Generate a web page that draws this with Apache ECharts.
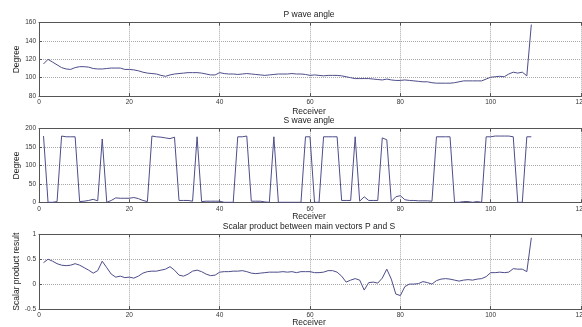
<!DOCTYPE html>
<html>
<head>
<meta charset="utf-8">
<script src="https://cdn.jsdelivr.net/npm/echarts@6/dist/echarts.min.js"></script>
<style>
html,body{margin:0;padding:0;background:#fff;}
#chart{width:582px;height:327px;}
</style>
</head>
<body>
<div id="chart"></div>
<script>
// Receiver index 1..109
var receivers = [];
for (var i = 1; i <= 109; i++) receivers.push(i);

var pAngle = [115,120,117,114,111,109.5,109,111,112,112,111.5,110,109.5,109.5,110,110.5,110.5,110.5,109,109,
108.5,107.5,106,105,104.5,104,102.5,101.5,103,104,104.5,105,105.5,105.5,105.5,105,104,103,103,105.5,
104.5,104,104,103.5,104,104.5,104,103.5,103,102.5,103,103.5,104,104,104,104.5,104,104,103.5,102.5,
103,102.5,102,102.5,102.5,102.5,102,101,100,99,99,99,99,98.5,98,97.5,98.5,97.5,97,97,
97.5,97,96.5,96,95.5,95.5,94.5,94,94,94,94,94.5,95.5,96.5,96.5,96.5,96.5,96.5,98.5,100.5,
101,101.5,101,104,106,105,106,102,158];

var sAngle = [180,0,0,2,180,178,178,178,2,3,5,8,4,172,0,5,12,11,11,11,
13,10,5,2,180,178,177,175,173,177,5,5,5,3,178,2,3,3,3,3,
0,0,0,178,178,180,3,3,3,1,0,178,0,0,0,0,0,0,178,178,
0,0,178,178,178,178,5,5,5,178,3,15,5,5,5,175,170,2,15,18,
7,5,5,4,4,4,3,178,178,178,178,0,0,2,2,0,2,0,178,178,
180,180,180,180,178,0,0,178,178];

var scalarPS = [0.43,0.5,0.46,0.41,0.38,0.37,0.38,0.41,0.38,0.33,0.28,0.22,0.27,0.46,0.33,0.2,0.14,0.16,0.13,0.14,
0.12,0.16,0.22,0.25,0.26,0.26,0.28,0.3,0.35,0.28,0.18,0.16,0.2,0.26,0.28,0.25,0.2,0.17,0.18,0.24,
0.25,0.25,0.26,0.26,0.27,0.25,0.22,0.21,0.22,0.23,0.24,0.24,0.24,0.25,0.24,0.25,0.23,0.25,0.25,0.25,
0.23,0.23,0.24,0.27,0.27,0.24,0.16,0.04,0.08,0.11,0.08,-0.12,0.03,0.04,0.02,0.12,0.3,0.1,-0.2,-0.23,
-0.05,0,0,0.01,0.05,0.03,0,0.07,0.1,0.11,0.1,0.08,0.06,0.08,0.09,0.08,0.1,0.11,0.15,0.23,
0.23,0.24,0.23,0.24,0.31,0.3,0.3,0.25,0.93];

var titles = ['P wave angle', 'S wave angle', 'Scalar product between main vectors P and S'];
var yNames = ['Degree', 'Degree', 'Scalar product result'];
var yRanges = [[80,160,20],[0,200,50],[-0.5,1,0.5]];
var xName = 'Receiver';

var FONT = 'Liberation Sans, Arial, sans-serif';
var AX = '#555';
var gridTops = [22.7, 128.7, 234.3];
var gridHeights = [73.3, 73.6, 74.7];
var titleY = [14.7, 121, 226.7];
var recvY = [112, 216.7, 323];

function pairs(arr) { return arr.map(function (v, k) { return [receivers[k], v]; }); }
var seriesData = [pAngle, sAngle, scalarPS];

var grids = [], xAxes = [], yAxes = [], series = [], graphics = [];
for (var g = 0; g < 3; g++) {
  grids.push({ left: 39, right: -21.6, top: gridTops[g], height: gridHeights[g],
    containLabel: false, outerBoundsMode: 'none' });
  var baseX = {
    type: 'value', gridIndex: g, min: 0, max: 125, interval: 20,
    axisLine: { show: true, onZero: false, lineStyle: { color: AX, width: 1 } },
    axisTick: { show: true, inside: true, length: 3, lineStyle: { color: AX } }
  };
  xAxes.push(Object.assign({}, baseX, {
    position: 'bottom',
    axisLabel: { show: true, fontSize: 6.5, color: '#333', margin: 3, fontFamily: FONT,
      formatter: function (v) { return v > 120 ? '' : String(v); } },
    splitLine: { show: true, lineStyle: { type: 'dotted', color: '#aaa', width: 1 } }
  }));
  xAxes.push(Object.assign({}, baseX, {
    position: 'top',
    axisLabel: { show: false },
    splitLine: { show: false }
  }));
  yAxes.push({
    type: 'value', gridIndex: g, min: yRanges[g][0], max: yRanges[g][1], interval: yRanges[g][2],
    position: 'left',
    axisLine: { show: true, onZero: false, lineStyle: { color: AX, width: 1 } },
    axisTick: { show: true, inside: true, length: 3, lineStyle: { color: AX } },
    axisLabel: { show: true, fontSize: 6.5, color: '#333', margin: 3, fontFamily: FONT },
    splitLine: { show: true, lineStyle: { type: 'dotted', color: '#aaa', width: 1 } },
    name: yNames[g], nameLocation: 'middle', nameGap: 17.5, nameMoveOverlap: false,
    nameTextStyle: { fontSize: 8.5, color: '#222', fontFamily: FONT }
  });
  series.push({
    type: 'line', xAxisIndex: g * 2, yAxisIndex: g,
    data: pairs(seriesData[g]), showSymbol: false, symbol: 'none',
    lineStyle: { width: 1, color: '#4d4d8a' }, animation: false
  });
  graphics.push({ type: 'text', x: 309, y: titleY[g],
    style: { text: titles[g], fill: '#222', font: '8.5px ' + FONT, textAlign: 'center', textVerticalAlign: 'middle' } });
  graphics.push({ type: 'text', x: 309, y: recvY[g],
    style: { text: xName, fill: '#222', font: '8.5px ' + FONT, textAlign: 'center', textVerticalAlign: 'middle' } });
}

var chart = echarts.init(document.getElementById('chart'), null, { renderer: 'canvas' });
chart.setOption({
  animation: false,
  backgroundColor: '#fff',
  grid: grids,
  xAxis: xAxes,
  yAxis: yAxes,
  series: series,
  graphic: graphics
});
</script>
</body>
</html>
